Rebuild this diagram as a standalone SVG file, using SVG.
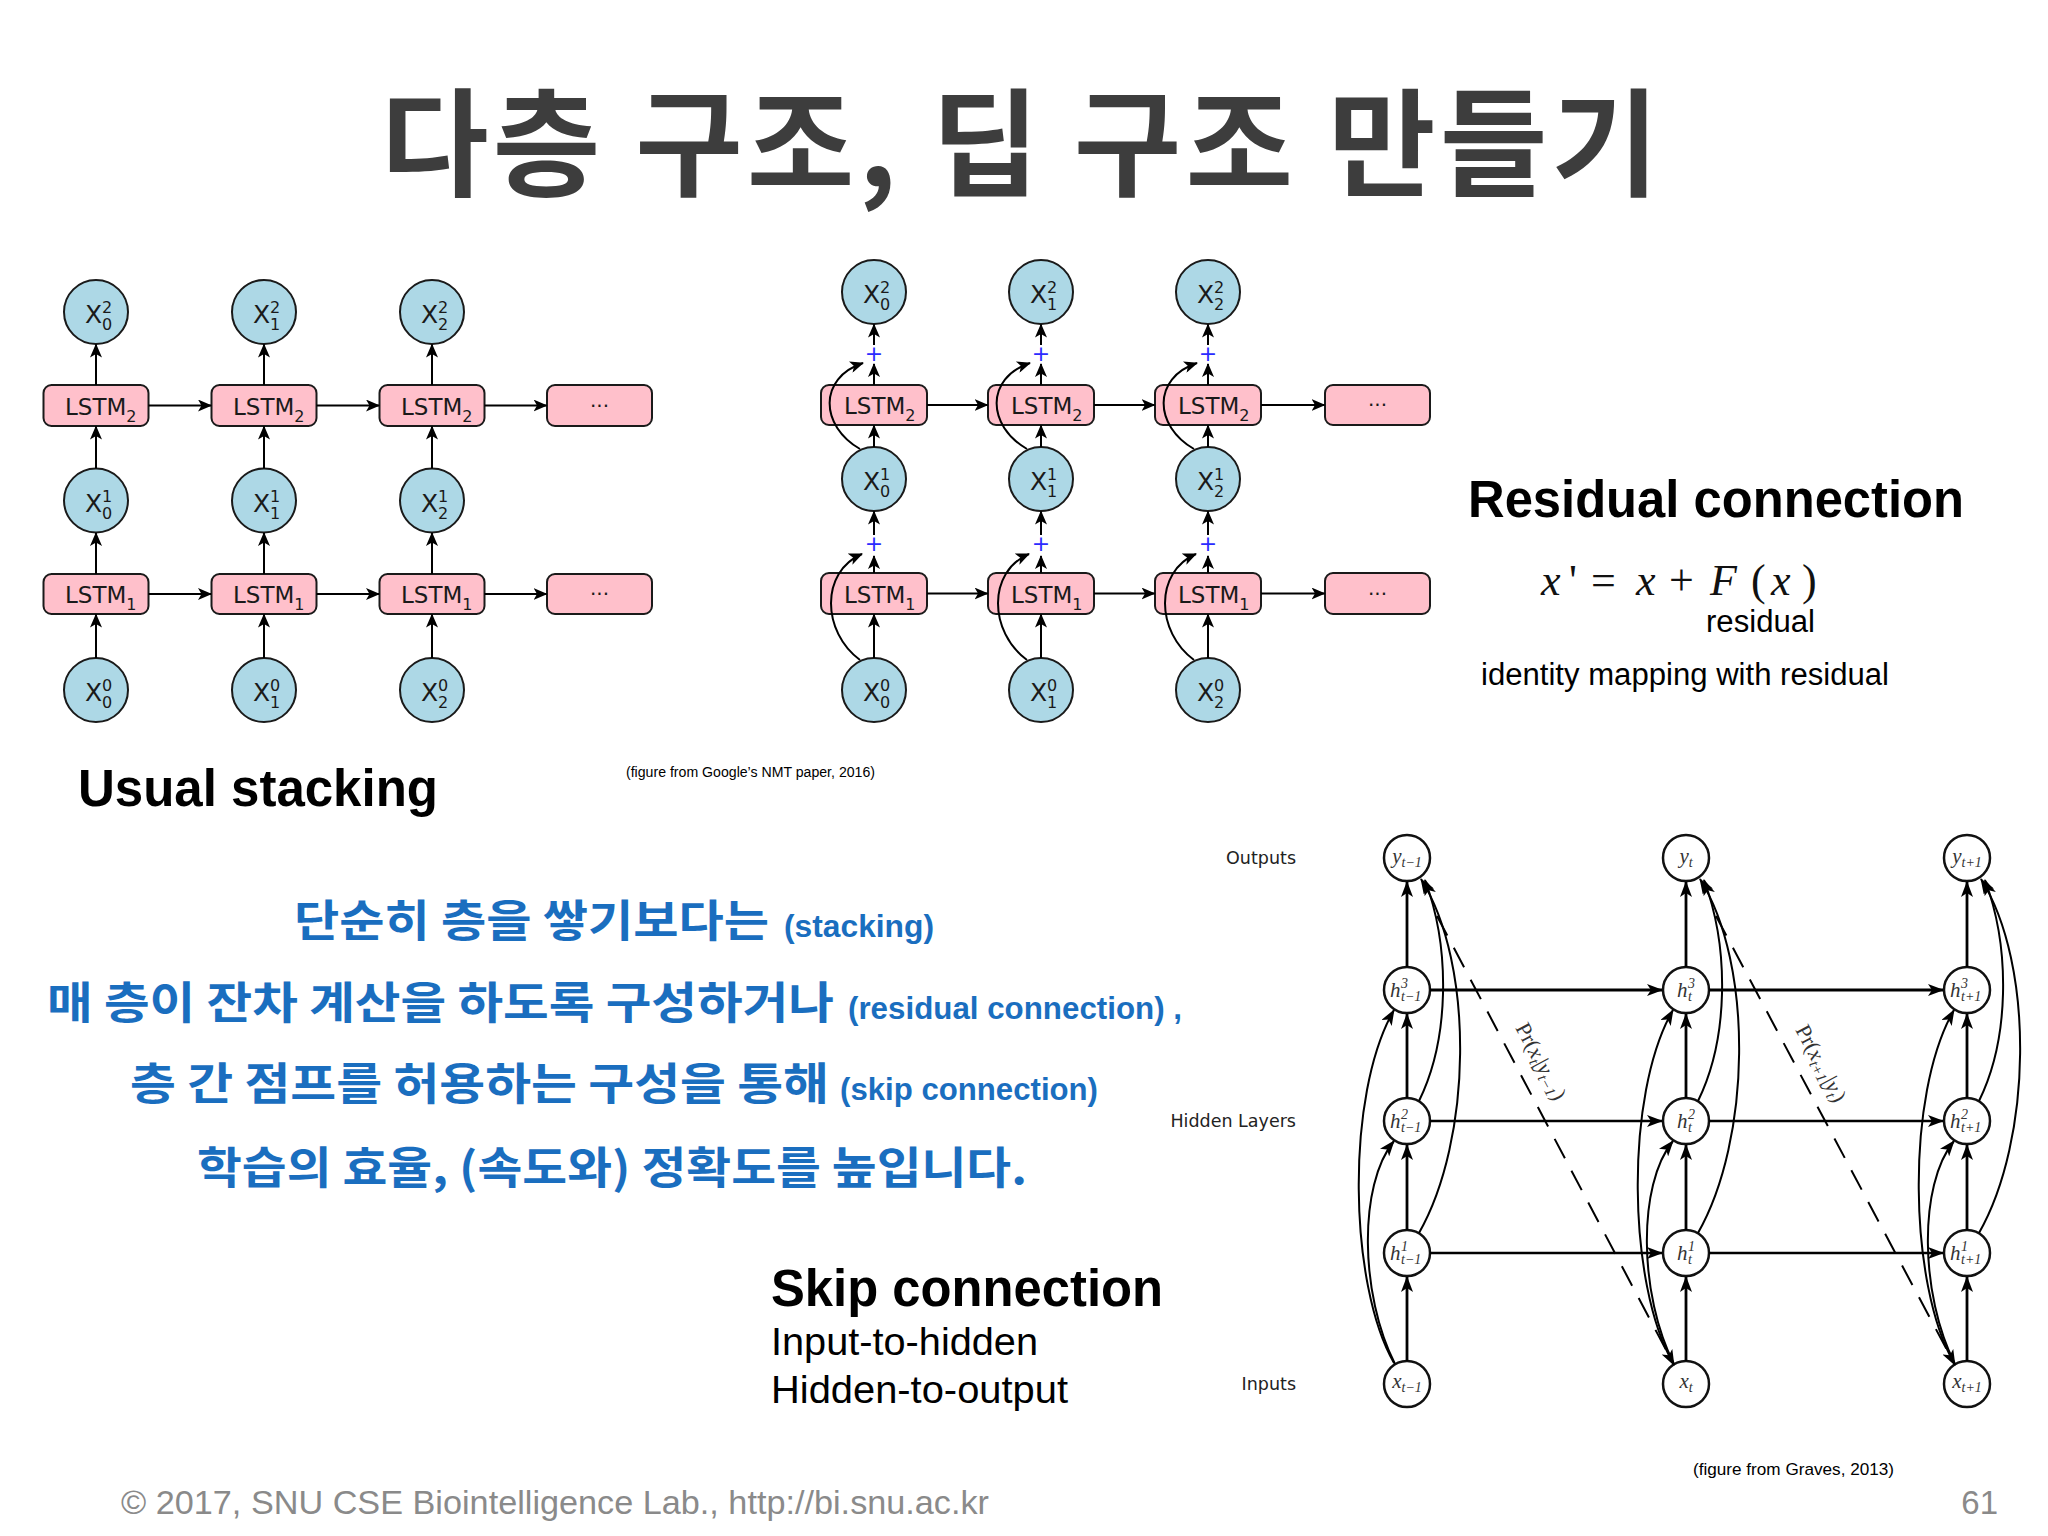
<svg xmlns="http://www.w3.org/2000/svg" width="2048" height="1536" viewBox="0 0 2048 1536">
<style>
.lc{fill:#add8e6;stroke:#1a1a1a;stroke-width:2}
.lb{fill:#ffc0cb;stroke:#1a1a1a;stroke-width:2}
.dj{font-family:"DejaVu Sans",sans-serif;fill:#1a1a1a}
.xl{font-size:25px}
.xs{font-size:16px}
.ls{font-size:23px}
.ar{stroke:#000;stroke-width:2;fill:none;marker-end:url(#ah)}
.pl{font-family:"DejaVu Sans",sans-serif;font-size:22px;fill:#2b2bff;text-anchor:middle}
.gc{fill:#fff;stroke:#111;stroke-width:2.5}
.gm{font-family:"Liberation Serif",serif;font-style:italic;font-size:21px;fill:#333}
.gs{font-family:"Liberation Serif",serif;font-style:italic;font-size:14px;fill:#333}
.gv{stroke:#000;stroke-width:2.8;fill:none;marker-end:url(#ag)}
.gh3{stroke:#000;stroke-width:3.2;fill:none;marker-end:url(#ag)}
.gh{stroke:#000;stroke-width:2.4;fill:none;marker-end:url(#ag)}
.gcv{stroke:#000;stroke-width:2;fill:none;marker-end:url(#ag)}
.gd{stroke:#000;stroke-width:2;fill:none;stroke-dasharray:22 14;marker-end:url(#ag)}
.pr{font-family:"Liberation Serif",serif;font-size:22px;fill:#333}
.gl{font-family:"DejaVu Sans",sans-serif;font-size:17.5px;fill:#222;text-anchor:end}
.kr{font-family:"Noto Sans CJK KR",sans-serif;font-weight:700;font-size:44px;fill:#1a6ebf}
.en{font-family:"Liberation Sans",Arial,sans-serif;font-weight:700;font-size:31px;fill:#1a6ebf}
.hd{font-family:"Liberation Sans",Arial,sans-serif;font-weight:700;font-size:51px;fill:#000}
.tx{font-family:"Liberation Sans",Arial,sans-serif;fill:#000}
.fm{font-family:"Liberation Serif",serif;font-size:44px;fill:#111}
.ft{font-family:"Liberation Sans",Arial,sans-serif;font-size:33px;fill:#8a8a8a}
</style>
<defs>
<marker id="ah" markerUnits="userSpaceOnUse" markerWidth="14" markerHeight="12" viewBox="0 0 14 12" refX="13" refY="6" orient="auto"><path d="M0,0 L14,6 L0,12 L3.5,6 Z" fill="#000"/></marker>
<marker id="ag" markerUnits="userSpaceOnUse" markerWidth="16" markerHeight="12" viewBox="0 0 16 12" refX="15" refY="6" orient="auto"><path d="M0,0 L16,6 L0,12 L4,6 Z" fill="#000"/></marker>
</defs>
<rect width="2048" height="1536" fill="#fff"/>

<text id="title" x="381" y="187" font-family="'Noto Sans CJK KR',sans-serif" font-weight="700" font-size="117" fill="#3d3d3d" textLength="1278" lengthAdjust="spacing">다층 구조, 딥 구조 만들기</text>

<!-- Left diagram: usual stacking -->
<g id="left-diagram">
<g id="L-x2-0"><circle class="lc" cx="96" cy="312" r="32"/><text class="dj xl" x="85" y="323">X</text><text class="dj xs" x="102" y="313">2</text><text class="dj xs" x="102" y="330">0</text></g>
<g id="L-x2-1"><circle class="lc" cx="264" cy="312" r="32"/><text class="dj xl" x="253" y="323">X</text><text class="dj xs" x="270" y="313">2</text><text class="dj xs" x="270" y="330">1</text></g>
<g id="L-x2-2"><circle class="lc" cx="432" cy="312" r="32"/><text class="dj xl" x="421" y="323">X</text><text class="dj xs" x="438" y="313">2</text><text class="dj xs" x="438" y="330">2</text></g>
<g id="L-lstm2-0"><rect class="lb" x="43.5" y="385" width="105" height="41" rx="8"/><text class="dj ls" x="65" y="414.5">LSTM<tspan class="xs" dy="7">2</tspan></text></g>
<g id="L-lstm2-1"><rect class="lb" x="211.5" y="385" width="105" height="41" rx="8"/><text class="dj ls" x="233" y="414.5">LSTM<tspan class="xs" dy="7">2</tspan></text></g>
<g id="L-lstm2-2"><rect class="lb" x="379.5" y="385" width="105" height="41" rx="8"/><text class="dj ls" x="401" y="414.5">LSTM<tspan class="xs" dy="7">2</tspan></text></g>
<g id="L-dots2"><rect class="lb" x="547" y="385" width="105" height="41" rx="8"/><text class="dj" font-size="20" x="599.5" y="407" text-anchor="middle">...</text></g>
<g id="L-x1-0"><circle class="lc" cx="96" cy="500.5" r="32"/><text class="dj xl" x="85" y="511.5">X</text><text class="dj xs" x="102" y="501.5">1</text><text class="dj xs" x="102" y="518.5">0</text></g>
<g id="L-x1-1"><circle class="lc" cx="264" cy="500.5" r="32"/><text class="dj xl" x="253" y="511.5">X</text><text class="dj xs" x="270" y="501.5">1</text><text class="dj xs" x="270" y="518.5">1</text></g>
<g id="L-x1-2"><circle class="lc" cx="432" cy="500.5" r="32"/><text class="dj xl" x="421" y="511.5">X</text><text class="dj xs" x="438" y="501.5">1</text><text class="dj xs" x="438" y="518.5">2</text></g>
<g id="L-lstm1-0"><rect class="lb" x="43.5" y="574" width="105" height="40" rx="8"/><text class="dj ls" x="65" y="603">LSTM<tspan class="xs" dy="7">1</tspan></text></g>
<g id="L-lstm1-1"><rect class="lb" x="211.5" y="574" width="105" height="40" rx="8"/><text class="dj ls" x="233" y="603">LSTM<tspan class="xs" dy="7">1</tspan></text></g>
<g id="L-lstm1-2"><rect class="lb" x="379.5" y="574" width="105" height="40" rx="8"/><text class="dj ls" x="401" y="603">LSTM<tspan class="xs" dy="7">1</tspan></text></g>
<g id="L-dots1"><rect class="lb" x="547" y="574" width="105" height="40" rx="8"/><text class="dj" font-size="20" x="599.5" y="595" text-anchor="middle">...</text></g>
<g id="L-x0-0"><circle class="lc" cx="96" cy="690" r="32"/><text class="dj xl" x="85" y="701">X</text><text class="dj xs" x="102" y="691">0</text><text class="dj xs" x="102" y="708">0</text></g>
<g id="L-x0-1"><circle class="lc" cx="264" cy="690" r="32"/><text class="dj xl" x="253" y="701">X</text><text class="dj xs" x="270" y="691">0</text><text class="dj xs" x="270" y="708">1</text></g>
<g id="L-x0-2"><circle class="lc" cx="432" cy="690" r="32"/><text class="dj xl" x="421" y="701">X</text><text class="dj xs" x="438" y="691">0</text><text class="dj xs" x="438" y="708">2</text></g>
</g>

<!-- Middle diagram: residual -->
<g id="mid-diagram">
<g id="M-x2-0"><circle class="lc" cx="874" cy="292" r="32"/><text class="dj xl" x="863" y="303">X</text><text class="dj xs" x="880" y="293">2</text><text class="dj xs" x="880" y="310">0</text></g>
<g id="M-x2-1"><circle class="lc" cx="1041" cy="292" r="32"/><text class="dj xl" x="1030" y="303">X</text><text class="dj xs" x="1047" y="293">2</text><text class="dj xs" x="1047" y="310">1</text></g>
<g id="M-x2-2"><circle class="lc" cx="1208" cy="292" r="32"/><text class="dj xl" x="1197" y="303">X</text><text class="dj xs" x="1214" y="293">2</text><text class="dj xs" x="1214" y="310">2</text></g>
<g id="M-plus2-0"><text class="pl" x="874" y="361">+</text></g>
<g id="M-plus2-1"><text class="pl" x="1041" y="361">+</text></g>
<g id="M-plus2-2"><text class="pl" x="1208" y="361">+</text></g>
<g id="M-lstm2-0"><rect class="lb" x="821" y="385" width="106" height="40" rx="8"/><text class="dj ls" x="844" y="414">LSTM<tspan class="xs" dy="7">2</tspan></text></g>
<g id="M-lstm2-1"><rect class="lb" x="988" y="385" width="106" height="40" rx="8"/><text class="dj ls" x="1011" y="414">LSTM<tspan class="xs" dy="7">2</tspan></text></g>
<g id="M-lstm2-2"><rect class="lb" x="1155" y="385" width="106" height="40" rx="8"/><text class="dj ls" x="1178" y="414">LSTM<tspan class="xs" dy="7">2</tspan></text></g>
<g id="M-dots2"><rect class="lb" x="1325" y="385" width="105" height="40" rx="8"/><text class="dj" font-size="20" x="1377.5" y="406" text-anchor="middle">...</text></g>
<g id="M-x1-0"><circle class="lc" cx="874" cy="479" r="32"/><text class="dj xl" x="863" y="490">X</text><text class="dj xs" x="880" y="480">1</text><text class="dj xs" x="880" y="497">0</text></g>
<g id="M-x1-1"><circle class="lc" cx="1041" cy="479" r="32"/><text class="dj xl" x="1030" y="490">X</text><text class="dj xs" x="1047" y="480">1</text><text class="dj xs" x="1047" y="497">1</text></g>
<g id="M-x1-2"><circle class="lc" cx="1208" cy="479" r="32"/><text class="dj xl" x="1197" y="490">X</text><text class="dj xs" x="1214" y="480">1</text><text class="dj xs" x="1214" y="497">2</text></g>
<g id="M-plus1-0"><text class="pl" x="874" y="551">+</text></g>
<g id="M-plus1-1"><text class="pl" x="1041" y="551">+</text></g>
<g id="M-plus1-2"><text class="pl" x="1208" y="551">+</text></g>
<g id="M-lstm1-0"><rect class="lb" x="821" y="573" width="106" height="41" rx="8"/><text class="dj ls" x="844" y="602.5">LSTM<tspan class="xs" dy="7">1</tspan></text></g>
<g id="M-lstm1-1"><rect class="lb" x="988" y="573" width="106" height="41" rx="8"/><text class="dj ls" x="1011" y="602.5">LSTM<tspan class="xs" dy="7">1</tspan></text></g>
<g id="M-lstm1-2"><rect class="lb" x="1155" y="573" width="106" height="41" rx="8"/><text class="dj ls" x="1178" y="602.5">LSTM<tspan class="xs" dy="7">1</tspan></text></g>
<g id="M-dots1"><rect class="lb" x="1325" y="573" width="105" height="41" rx="8"/><text class="dj" font-size="20" x="1377.5" y="595" text-anchor="middle">...</text></g>
<g id="M-x0-0"><circle class="lc" cx="874" cy="690" r="32"/><text class="dj xl" x="863" y="701">X</text><text class="dj xs" x="880" y="691">0</text><text class="dj xs" x="880" y="708">0</text></g>
<g id="M-x0-1"><circle class="lc" cx="1041" cy="690" r="32"/><text class="dj xl" x="1030" y="701">X</text><text class="dj xs" x="1047" y="691">0</text><text class="dj xs" x="1047" y="708">1</text></g>
<g id="M-x0-2"><circle class="lc" cx="1208" cy="690" r="32"/><text class="dj xl" x="1197" y="701">X</text><text class="dj xs" x="1214" y="691">0</text><text class="dj xs" x="1214" y="708">2</text></g>
</g>

<!-- Graves diagram nodes -->
<g id="graves-nodes">
<g id="G-y-0" transform="translate(1407,858)"><circle class="gc" r="23"/><text class="gm" x="0" y="5" text-anchor="middle">y<tspan class="gs" dy="4">t−1</tspan></text></g>
<g id="G-y-1" transform="translate(1686,858)"><circle class="gc" r="23"/><text class="gm" x="0" y="5" text-anchor="middle">y<tspan class="gs" dy="4">t</tspan></text></g>
<g id="G-y-2" transform="translate(1967,858)"><circle class="gc" r="23"/><text class="gm" x="0" y="5" text-anchor="middle">y<tspan class="gs" dy="4">t+1</tspan></text></g>
<g id="G-h3-0" transform="translate(1407,990)"><circle class="gc" r="23"/><text class="gm" x="-17" y="7">h</text><text class="gs" x="-6" y="-2">3</text><text class="gs" x="-6" y="11">t−1</text></g>
<g id="G-h3-1" transform="translate(1686,990)"><circle class="gc" r="23"/><text class="gm" x="-9" y="7">h</text><text class="gs" x="2" y="-2">3</text><text class="gs" x="2" y="11">t</text></g>
<g id="G-h3-2" transform="translate(1967,990)"><circle class="gc" r="23"/><text class="gm" x="-17" y="7">h</text><text class="gs" x="-6" y="-2">3</text><text class="gs" x="-6" y="11">t+1</text></g>
<g id="G-h2-0" transform="translate(1407,1121)"><circle class="gc" r="23"/><text class="gm" x="-17" y="7">h</text><text class="gs" x="-6" y="-2">2</text><text class="gs" x="-6" y="11">t−1</text></g>
<g id="G-h2-1" transform="translate(1686,1121)"><circle class="gc" r="23"/><text class="gm" x="-9" y="7">h</text><text class="gs" x="2" y="-2">2</text><text class="gs" x="2" y="11">t</text></g>
<g id="G-h2-2" transform="translate(1967,1121)"><circle class="gc" r="23"/><text class="gm" x="-17" y="7">h</text><text class="gs" x="-6" y="-2">2</text><text class="gs" x="-6" y="11">t+1</text></g>
<g id="G-h1-0" transform="translate(1407,1253)"><circle class="gc" r="23"/><text class="gm" x="-17" y="7">h</text><text class="gs" x="-6" y="-2">1</text><text class="gs" x="-6" y="11">t−1</text></g>
<g id="G-h1-1" transform="translate(1686,1253)"><circle class="gc" r="23"/><text class="gm" x="-9" y="7">h</text><text class="gs" x="2" y="-2">1</text><text class="gs" x="2" y="11">t</text></g>
<g id="G-h1-2" transform="translate(1967,1253)"><circle class="gc" r="23"/><text class="gm" x="-17" y="7">h</text><text class="gs" x="-6" y="-2">1</text><text class="gs" x="-6" y="11">t+1</text></g>
<g id="G-x-0" transform="translate(1407,1384)"><circle class="gc" r="23"/><text class="gm" x="0" y="4" text-anchor="middle">x<tspan class="gs" dy="4">t−1</tspan></text></g>
<g id="G-x-1" transform="translate(1686,1384)"><circle class="gc" r="23"/><text class="gm" x="0" y="4" text-anchor="middle">x<tspan class="gs" dy="4">t</tspan></text></g>
<g id="G-x-2" transform="translate(1967,1384)"><circle class="gc" r="23"/><text class="gm" x="0" y="4" text-anchor="middle">x<tspan class="gs" dy="4">t+1</tspan></text></g>
</g>

<g id="connectors">
<g id="left-connectors">
<path class="ar" d="M96,658 L96,614.5"/><path class="ar" d="M264,658 L264,614.5"/><path class="ar" d="M432,658 L432,614.5"/>
<path class="ar" d="M96,574 L96,533"/><path class="ar" d="M264,574 L264,533"/><path class="ar" d="M432,574 L432,533"/>
<path class="ar" d="M96,468.5 L96,426.5"/><path class="ar" d="M264,468.5 L264,426.5"/><path class="ar" d="M432,468.5 L432,426.5"/>
<path class="ar" d="M96,385 L96,344.5"/><path class="ar" d="M264,385 L264,344.5"/><path class="ar" d="M432,385 L432,344.5"/>
<path class="ar" d="M148.5,405.5 L211,405.5"/><path class="ar" d="M316.5,405.5 L379,405.5"/><path class="ar" d="M484.5,405.5 L546.5,405.5"/>
<path class="ar" d="M148.5,594 L211,594"/><path class="ar" d="M316.5,594 L379,594"/><path class="ar" d="M484.5,594 L546.5,594"/>
</g>
<g id="mid-connectors">
<path class="ar" d="M874,658 L874,614.5"/><path class="ar" d="M1041,658 L1041,614.5"/><path class="ar" d="M1208,658 L1208,614.5"/>
<path class="ar" d="M874,573 L874,556"/><path class="ar" d="M1041,573 L1041,556"/><path class="ar" d="M1208,573 L1208,556"/>
<path class="ar" d="M874,535 L874,511.5"/><path class="ar" d="M1041,535 L1041,511.5"/><path class="ar" d="M1208,535 L1208,511.5"/>
<path class="ar" d="M874,447 L874,425.5"/><path class="ar" d="M1041,447 L1041,425.5"/><path class="ar" d="M1208,447 L1208,425.5"/>
<path class="ar" d="M874,385 L874,364"/><path class="ar" d="M1041,385 L1041,364"/><path class="ar" d="M1208,385 L1208,364"/>
<path class="ar" d="M874,345 L874,324.5"/><path class="ar" d="M1041,345 L1041,324.5"/><path class="ar" d="M1208,345 L1208,324.5"/>
<path class="ar" d="M927,405 L987.5,405"/><path class="ar" d="M1094,405 L1154.5,405"/><path class="ar" d="M1261,405 L1324.5,405"/>
<path class="ar" d="M927,593.5 L987.5,593.5"/><path class="ar" d="M1094,593.5 L1154.5,593.5"/><path class="ar" d="M1261,593.5 L1324.5,593.5"/>
<path class="ar" d="M860,660 C822,632 820,572 862,554"/><path class="ar" d="M1027,660 C989,632 987,572 1029,554"/><path class="ar" d="M1194,660 C1156,632 1154,572 1196,554"/>
<path class="ar" d="M860,449 C820,426 818,378 863,363"/><path class="ar" d="M1027,449 C987,426 985,378 1030,363"/><path class="ar" d="M1194,449 C1154,426 1152,378 1197,363"/>
</g>
<g id="graves-connectors">
<g transform="translate(1407,0)">
<path class="gv" d="M0,1361 L0,1277"/><path class="gv" d="M0,1230 L0,1145"/><path class="gv" d="M0,1098 L0,1014"/><path class="gv" d="M0,967 L0,882"/>
<path class="gcv" d="M-12,1364 C-47,1295 -49,1185 -13,1141"/>
<path class="gcv" d="M-13,1363 C-58,1285 -62,1095 -13,1010"/>
<path class="gcv" d="M12,1233 C65,1140 68,965 14,879"/>
<path class="gcv" d="M12,1101 C42,1040 44,950 18,880"/>
</g>
<g transform="translate(1686,0)">
<path class="gv" d="M0,1361 L0,1277"/><path class="gv" d="M0,1230 L0,1145"/><path class="gv" d="M0,1098 L0,1014"/><path class="gv" d="M0,967 L0,882"/>
<path class="gcv" d="M-12,1364 C-47,1295 -49,1185 -13,1141"/>
<path class="gcv" d="M-13,1363 C-58,1285 -62,1095 -13,1010"/>
<path class="gcv" d="M12,1233 C65,1140 68,965 14,879"/>
<path class="gcv" d="M12,1101 C42,1040 44,950 18,880"/>
</g>
<g transform="translate(1967,0)">
<path class="gv" d="M0,1361 L0,1277"/><path class="gv" d="M0,1230 L0,1145"/><path class="gv" d="M0,1098 L0,1014"/><path class="gv" d="M0,967 L0,882"/>
<path class="gcv" d="M-12,1364 C-47,1295 -49,1185 -13,1141"/>
<path class="gcv" d="M-13,1363 C-58,1285 -62,1095 -13,1010"/>
<path class="gcv" d="M12,1233 C65,1140 68,965 14,879"/>
<path class="gcv" d="M12,1101 C42,1040 44,950 18,880"/>
</g>
<path class="gh3" d="M1430,990 L1662,990"/><path class="gh3" d="M1709,990 L1943,990"/>
<path class="gh" d="M1430,1121 L1662,1121"/><path class="gh" d="M1709,1121 L1943,1121"/>
<path class="gh" d="M1430,1253 L1662,1253"/><path class="gh" d="M1709,1253 L1943,1253"/>
<path class="gd" d="M1437,916 L1674,1365"/>
<path class="gd" d="M1716,916 L1955,1365"/>
</g>
</g>

<g id="graves-labels">
<text class="pr" transform="translate(1540,1062) rotate(62)" text-anchor="middle" y="6">Pr(<tspan font-style="italic">x</tspan><tspan font-size="15" font-style="italic" dy="4">t</tspan><tspan dy="-4">|</tspan><tspan font-style="italic">y</tspan><tspan font-size="15" font-style="italic" dy="4">t−1</tspan><tspan dy="-4">)</tspan></text>
<text class="pr" transform="translate(1820,1064) rotate(62)" text-anchor="middle" y="6">Pr(<tspan font-style="italic">x</tspan><tspan font-size="15" font-style="italic" dy="4">t+1</tspan><tspan dy="-4">|</tspan><tspan font-style="italic">y</tspan><tspan font-size="15" font-style="italic" dy="4">t</tspan><tspan dy="-4">)</tspan></text>
<text class="gl" x="1296" y="864">Outputs</text>
<text class="gl" x="1296" y="1127">Hidden Layers</text>
<text class="gl" x="1296" y="1390">Inputs</text>
<text class="tx" x="1693" y="1475" font-size="17" textLength="201" lengthAdjust="spacingAndGlyphs">(figure from Graves, 2013)</text>
</g>

<g id="captions">
<text class="hd" x="78" y="806">Usual stacking</text>
<text class="tx" x="626" y="777" font-size="14" textLength="249" lengthAdjust="spacingAndGlyphs">(figure from Google’s NMT paper, 2016)</text>
<text class="hd" x="1468" y="517" textLength="496" lengthAdjust="spacingAndGlyphs">Residual connection</text>
<g id="formula" class="fm">
<text x="1541" y="595" font-style="italic">x</text>
<text x="1569" y="595">'</text>
<text x="1591" y="595">=</text>
<text x="1636" y="595" font-style="italic">x</text>
<text x="1669" y="595">+</text>
<text x="1710" y="595" font-style="italic">F</text>
<text x="1751" y="595">(</text>
<text x="1771" y="595" font-style="italic">x</text>
<text x="1802" y="595">)</text>
</g>
<text class="tx" x="1706" y="632" font-size="31" textLength="109" lengthAdjust="spacingAndGlyphs">residual</text>
<text class="tx" x="1481" y="685" font-size="31" textLength="408" lengthAdjust="spacingAndGlyphs">identity mapping with residual</text>
<text class="hd" x="771" y="1306" textLength="392" lengthAdjust="spacingAndGlyphs">Skip connection</text>
<text class="tx" x="771" y="1355" font-size="39" textLength="267" lengthAdjust="spacingAndGlyphs">Input-to-hidden</text>
<text class="tx" x="771" y="1403" font-size="39" textLength="297" lengthAdjust="spacingAndGlyphs">Hidden-to-output</text>
</g>

<g id="korean-text">
<text class="kr" x="294" y="937" textLength="475" lengthAdjust="spacingAndGlyphs">단순히 층을 쌓기보다는</text>
<text class="en" x="784" y="937" textLength="150" lengthAdjust="spacingAndGlyphs">(stacking)</text>
<text class="kr" x="47" y="1019" textLength="787" lengthAdjust="spacingAndGlyphs">매 층이 잔차 계산을 하도록 구성하거나</text>
<text class="en" x="848" y="1019" textLength="334" lengthAdjust="spacingAndGlyphs">(residual connection) ,</text>
<text class="kr" x="130" y="1100" textLength="699" lengthAdjust="spacingAndGlyphs">층 간 점프를 허용하는 구성을 통해</text>
<text class="en" x="840" y="1100" textLength="258" lengthAdjust="spacingAndGlyphs">(skip connection)</text>
<text class="kr" x="197" y="1184" textLength="830" lengthAdjust="spacingAndGlyphs">학습의 효율, (속도와) 정확도를 높입니다.</text>
</g>

<g id="footer">
<text class="ft" x="121" y="1514" textLength="868" lengthAdjust="spacingAndGlyphs">© 2017, SNU CSE Biointelligence Lab., http://bi.snu.ac.kr</text>
<text class="ft" x="1998" y="1514" text-anchor="end">61</text>
</g>
</svg>
